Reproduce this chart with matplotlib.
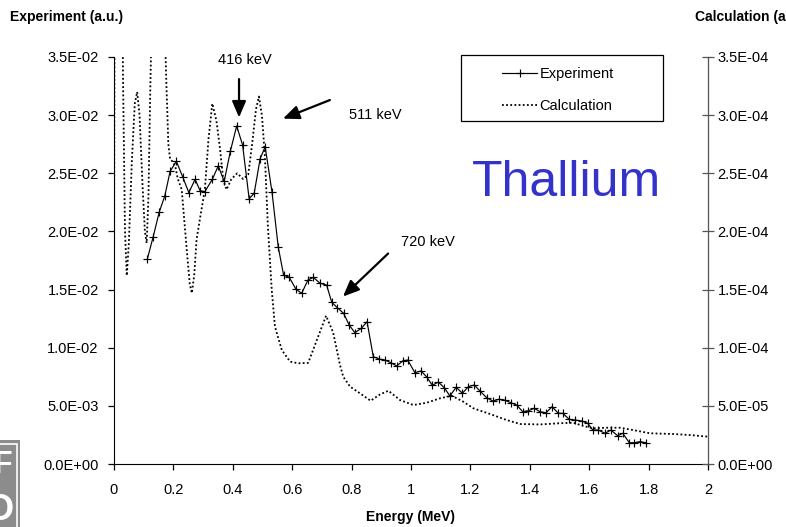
import matplotlib
matplotlib.use("Agg")
import matplotlib.pyplot as plt
from matplotlib.patches import Rectangle

plt.rcParams["font.family"] = ["Liberation Sans", "DejaVu Sans"]

# measured spectrum (MeV, a.u.)
exp_energy = [0.112, 0.132, 0.152, 0.171, 0.189, 0.210, 0.231, 0.252, 0.273, 0.290,
              0.306, 0.331, 0.351, 0.371, 0.392, 0.413, 0.433, 0.455, 0.472, 0.492,
              0.509, 0.532, 0.553, 0.571, 0.590, 0.613, 0.632, 0.653, 0.671, 0.694,
              0.716, 0.733, 0.752, 0.773, 0.792, 0.811, 0.833, 0.852, 0.873, 0.893,
              0.913, 0.932, 0.952, 0.973, 0.989, 1.013, 1.034, 1.053, 1.072, 1.092,
              1.112, 1.131, 1.152, 1.173, 1.193, 1.213, 1.232, 1.255, 1.275, 1.296,
              1.315, 1.336, 1.356, 1.376, 1.395, 1.415, 1.434, 1.455, 1.475, 1.496,
              1.511, 1.533, 1.552, 1.575, 1.595, 1.612, 1.631, 1.653, 1.673, 1.696,
              1.713, 1.735, 1.752, 1.771, 1.791]
exp_counts = [1.760, 1.955, 2.164, 2.305, 2.517, 2.603, 2.471, 2.333, 2.448, 2.350,
              2.342, 2.448, 2.563, 2.431, 2.692, 2.907, 2.743, 2.281, 2.328, 2.625,
              2.728, 2.339, 1.866, 1.625, 1.605, 1.502, 1.468, 1.582, 1.605, 1.554,
              1.539, 1.391, 1.344, 1.296, 1.195, 1.129, 1.167, 1.224, 0.923, 0.903,
              0.894, 0.871, 0.843, 0.888, 0.894, 0.785, 0.800, 0.748, 0.677, 0.705,
              0.656, 0.585, 0.660, 0.608, 0.665, 0.679, 0.628, 0.570, 0.542, 0.556,
              0.550, 0.527, 0.507, 0.450, 0.458, 0.479, 0.450, 0.441, 0.493, 0.436,
              0.436, 0.384, 0.378, 0.370, 0.350, 0.292, 0.292, 0.264, 0.292, 0.243,
              0.264, 0.183, 0.183, 0.192, 0.183]
exp_counts = [v * 1e-2 for v in exp_counts]

# calculated spectrum (MeV, a.u.)
calc_energy = [0.000, 0.003, 0.022, 0.030, 0.037, 0.043, 0.050, 0.060, 0.070, 0.078,
               0.086, 0.096, 0.104, 0.110, 0.116, 0.122, 0.130, 0.150, 0.168, 0.176,
               0.183, 0.189, 0.198, 0.207, 0.215, 0.228, 0.245, 0.255, 0.262, 0.270,
               0.278, 0.292, 0.306, 0.318, 0.331, 0.345, 0.357, 0.368, 0.379, 0.395,
               0.415, 0.435, 0.452, 0.465, 0.478, 0.488, 0.498, 0.508, 0.518, 0.531,
               0.542, 0.565, 0.593, 0.621, 0.654, 0.683, 0.714, 0.738, 0.761, 0.772,
               0.795, 0.828, 0.864, 0.896, 0.924, 0.963, 1.008, 1.053, 1.098, 1.137,
               1.176, 1.210, 1.266, 1.322, 1.367, 1.434, 1.496, 1.547, 1.580, 1.614,
               1.659, 1.704, 1.748, 1.805, 1.883, 1.939, 2.000]
calc_counts = [1.26, 6.0, 6.0, 3.4, 2.0, 1.62, 1.9, 2.6, 3.1, 3.2,
               3.0, 2.4, 2.0, 1.9, 2.3, 3.2, 4.2, 5.0, 4.0, 3.3,
               2.75, 2.62, 2.60, 2.55, 2.45, 2.36, 1.84, 1.55, 1.47, 1.62,
               1.93, 2.15, 2.36, 2.79, 3.10, 2.95, 2.71, 2.44, 2.36, 2.45,
               2.50, 2.45, 2.49, 2.75, 3.05, 3.16, 3.00, 2.65, 2.05, 1.50,
               1.18, 0.98, 0.88, 0.866, 0.87, 1.066, 1.275, 1.13, 0.85, 0.75,
               0.665, 0.608, 0.544, 0.599, 0.63, 0.55, 0.507, 0.527, 0.565, 0.587,
               0.536, 0.479, 0.43, 0.378, 0.344, 0.340, 0.35, 0.355, 0.327, 0.307,
               0.312, 0.312, 0.292, 0.264, 0.258, 0.249, 0.235]
calc_counts = [v * 1e-4 for v in calc_counts]

x_ticks = [0, 0.2, 0.4, 0.6, 0.8, 1.0, 1.2, 1.4, 1.6, 1.8, 2.0]
x_labels = ["0", "0.2", "0.4", "0.6", "0.8", "1", "1.2", "1.4", "1.6", "1.8", "2"]
left_ticks = [0, 5e-3, 1e-2, 1.5e-2, 2e-2, 2.5e-2, 3e-2, 3.5e-2]
left_labels = ["0.0E+00", "5.0E-03", "1.0E-02", "1.5E-02", "2.0E-02", "2.5E-02", "3.0E-02", "3.5E-02"]
right_ticks = [0, 5e-5, 1e-4, 1.5e-4, 2e-4, 2.5e-4, 3e-4, 3.5e-4]
right_labels = ["0.0E+00", "5.0E-05", "1.0E-04", "1.5E-04", "2.0E-04", "2.5E-04", "3.0E-04", "3.5E-04"]

# (label, text position, arrow tail, arrow tip)
peaks = [
    ("416 keV", (0.441, 0.0347), (0.421, 0.0331), (0.421, 0.0298)),
    ("511 keV", (0.880, 0.0300), (0.727, 0.0313), (0.569, 0.0297)),
    ("720 keV", (1.057, 0.0191), (0.923, 0.0181), (0.771, 0.0144)),
]

fs = 10.5
W, H = 786, 527
fig = plt.figure(figsize=(W / 100, H / 100), dpi=100)
ax = fig.add_axes([114 / W, 1 - 464 / H, 594 / W, 407 / H])
ax2 = ax.twinx()

ax.plot(exp_energy, exp_counts, color="black", lw=0.85, marker="+", ms=5.5, mew=0.85,
        label="Experiment", zorder=3)
ax2.plot(calc_energy, calc_counts, color="black", lw=1.3, linestyle=(0, (1, 1.3)),
         label="Calculation", zorder=2)

ax.set_xlim(0, 2)
ax.set_ylim(0, 0.035)
ax2.set_ylim(0, 3.5e-4)
ax.set_xticks(x_ticks)
ax.set_xticklabels(x_labels)
ax.set_yticks(left_ticks)
ax.set_yticklabels(left_labels)
ax2.set_yticks(right_ticks)
ax2.set_yticklabels(right_labels)

for a in (ax, ax2):
    a.spines["top"].set_visible(False)
ax2.spines["left"].set_visible(False)
ax2.spines["bottom"].set_visible(False)
ax2.spines["right"].set_color("#555555")
ax.tick_params(axis="x", direction="out", length=4, width=0.9, pad=10, labelsize=fs)
ax.tick_params(axis="y", direction="out", length=4, width=0.9, pad=7, labelsize=fs)
ax2.tick_params(axis="y", direction="inout", length=8, width=0.9, color="#555555",
                pad=3, labelsize=fs)

ax.set_xlabel("Energy (MeV)", fontsize=fs - 0.5, fontweight="bold", labelpad=9)
fig.text(10 / W, 1 - 17 / H, "Experiment (a.u.)", fontsize=fs - 0.5, fontweight="bold",
         ha="left", va="center")
fig.text(695 / W, 1 - 17 / H, "Calculation (a.u.)", fontsize=fs - 0.5, fontweight="bold",
         ha="left", va="center")

for label, txt, tail, tip in peaks:
    ax.annotate("", xy=tip, xytext=tail,
                arrowprops=dict(arrowstyle="-|>,head_length=0.7,head_width=0.3",
                                color="black", lw=1.6, mutation_scale=14,
                                shrinkA=0, shrinkB=0))
    ax.text(txt[0], txt[1], label, fontsize=fs, ha="center", va="center")

ax.text(1.205, 0.02305, "Thallium", fontsize=36, color="#3333cc", ha="left", va="baseline")

# legend: glyphs from the library, frame drawn as a plain box
h1, l1 = ax.get_legend_handles_labels()
h2, l2 = ax2.get_legend_handles_labels()
leg = ax2.legend(h1 + h2, l1 + l2, loc="upper left", bbox_to_anchor=(0.654, 0.975),
                 frameon=False, fontsize=fs, handlelength=2.35, handletextpad=0.2,
                 labelspacing=1.2, borderpad=0, borderaxespad=0)
ax2.add_patch(Rectangle((0.584, 0.843), 0.34, 0.162, transform=ax2.transAxes,
                        fill=False, edgecolor="black", lw=0.9, clip_on=False))

# corner logo, cut by the page edge
fig.patches.append(Rectangle((0, 0), 20 / W, 87 / H, transform=fig.transFigure,
                             facecolor="#8c8c8c", edgecolor="none", zorder=0))
fig.patches.append(Rectangle((-10 / W, -10 / H), 27 / W, 93 / H, transform=fig.transFigure,
                             facecolor="none", edgecolor="white", lw=1.2, zorder=1))
fig.text(13 / W, 1 - 465 / H, "F", fontsize=22, fontweight="bold", color="white",
         ha="right", va="center")
fig.text(14 / W, 1 - 510 / H, "O", fontsize=26, fontweight="bold", color="white",
         ha="right", va="center")

fig.savefig("out.png", dpi=100)
